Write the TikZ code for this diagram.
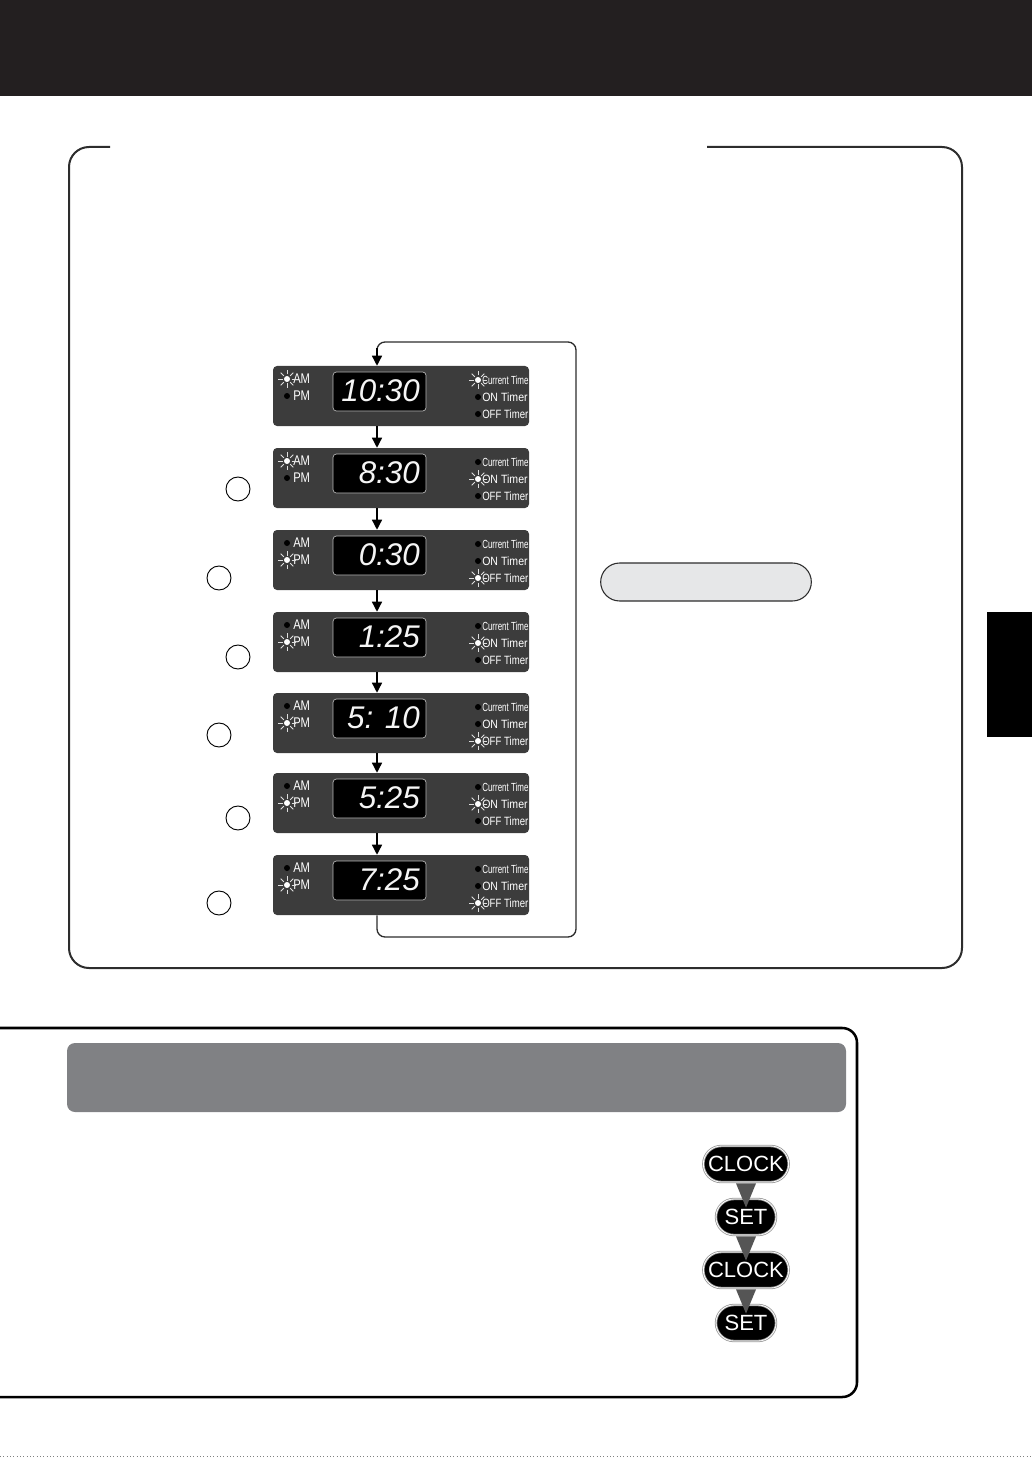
\documentclass[tikz,border=0pt]{standalone}
\usepackage{fontspec}
\setmainfont{Liberation Sans}
\newfontfamily\digfont{Liberation Sans}
\usetikzlibrary{arrows.meta,fit,calc,shapes.misc}
\definecolor{barblk}{RGB}{35,31,32}
\definecolor{panelgray}{RGB}{60,60,60}
\definecolor{framegray}{RGB}{45,45,45}
\definecolor{headgray}{RGB}{128,129,132}
\definecolor{pillgray}{RGB}{230,231,232}
\definecolor{trigray}{RGB}{85,85,85}
\tikzset{
  frameline/.style={draw=framegray, line width=1.5pt, rounded corners=15pt},
  flow/.style={draw=black, line width=1pt, -{Triangle[width=7.5pt,length=7.5pt]}},
  loopline/.style={draw=framegray, line width=1pt, rounded corners=6pt},
  ray/.style={draw=white!75!gray, line width=0.7pt},
  lbl/.style={anchor=west, inner sep=0pt, text=white, font=\fontsize{10.5}{10.5}\selectfont},
  rlbl/.style={anchor=west, inner sep=0pt, text=white, font=\fontsize{9}{9}\selectfont},
  digits/.style={anchor=east, inner sep=0pt, text=white!92!gray, font=\digfont\itshape\fontsize{23.5}{23.5}\selectfont},
  stepc/.style={circle, draw=black, line width=0.7pt, minimum size=18pt, inner sep=0pt},
  btn/.style={rounded rectangle, fill=black, draw=gray!80, double=white, double distance=0.6pt, line width=0.6pt,
     minimum height=27pt, inner sep=1pt, text=white, font=\fontsize{16.5}{16.5}\selectfont},
}
\newcommand\litdot[2]{%
  \foreach \a in {0,45,...,315}{\draw[ray] ($(#1,#2)+(\a:4.5)$) -- ($(#1,#2)+(\a:9)$);}
  \fill[white] (#1,#2) circle (3);}
\newcommand\offdot[2]{\fill[black] (#1,#2) circle (3);}
% #1 name, #2 top y, #3 digits, #4 AM(1)/PM(2), #5 right lit 1/2/3
\newcommand\dpanel[5]{%
  \fill[panelgray, rounded corners=3pt] (273,#2) rectangle (529,#2+60);
  \node[fit={(273,#2) (529,#2+60)}, inner sep=0pt] (#1) {};
  \draw[gray!55, fill=black, rounded corners=2.5pt, line width=0.5pt] (333,#2+6) rectangle (426,#2+45);
  \node[digits] (#1d) at (420,#2+25) {#3};
  \node[lbl] (#1am) at (293,#2+13) {\scalebox{0.8}[1]{AM}};
  \node[lbl] (#1pm) at (293,#2+30) {\scalebox{0.8}[1]{PM}};
  \node[rlbl] (#1ct) at (482,#2+14) {\scalebox{0.68}[1]{\fontsize{8.8}{8.8}\selectfont Current Time}};
  \node[rlbl] (#1on) at (482,#2+31) {\scalebox{0.88}[1]{ON Timer}};
  \node[rlbl] (#1off) at (482,#2+48) {\scalebox{0.8}[1]{OFF Timer}};
  \ifnum#4=1 \litdot{287}{#2+13}\offdot{287}{#2+30}\else\offdot{287}{#2+13}\litdot{287}{#2+30}\fi
  \ifnum#5=1 \litdot{478}{#2+14}\else\offdot{478}{#2+14}\fi
  \ifnum#5=2 \litdot{478}{#2+31}\else\offdot{478}{#2+31}\fi
  \ifnum#5=3 \litdot{478}{#2+48}\else\offdot{478}{#2+48}\fi
}
\begin{document}
\begin{tikzpicture}[x=0.75pt, y=-0.75pt]
\useasboundingbox (0,0) rectangle (1032,1458);
% top bar
\fill[barblk] (0,0) rectangle (1032,96);
% right tab
\fill[black] (987,612) rectangle (1032,737);
% top frame with title gap
\draw[frameline] (110,147) -- (69,147) -- (69,968) -- (962,968) -- (962,147) -- (707,147);
% panels
\dpanel{p1}{366}{10:30}{1}{1}
\dpanel{p2}{448}{8:30}{1}{2}
\dpanel{p3}{530}{0:30}{2}{3}
\dpanel{p4}{612}{1:25}{2}{2}
\dpanel{p5}{693}{5: 10}{2}{3}
\dpanel{p6}{773}{5:25}{2}{2}
\dpanel{p7}{855}{7:25}{2}{3}
\coordinate (lx) at (377,0);
\coordinate (lb) at (377,937);
\coordinate (rb) at (576,937);
\coordinate (rt) at (576,342);
\coordinate (lt) at (377,342);
\draw[flow] (p1.south -| lx) -- (p2.north -| lx);
\draw[flow] (p2.south -| lx) -- (p3.north -| lx);
\draw[flow] (p3.south -| lx) -- (p4.north -| lx);
\draw[flow] (p4.south -| lx) -- (p5.north -| lx);
\draw[flow] (p5.south -| lx) -- (p6.north -| lx);
\draw[flow] (p6.south -| lx) -- (p7.north -| lx);
\draw[loopline] (p7.south -| lx) -- (lb) -- (rb) -- (rt) -- (lt) -- ($(lt)+(0,8)$);
\draw[flow] ($(lt)+(0,6)$) -- (p1.north -| lx);
% step circles
\node[stepc] (c1) at (238,489) {};
\node[stepc] (c2) at (219,578) {};
\node[stepc] (c3) at (238,657) {};
\node[stepc] (c4) at (219,735) {};
\node[stepc] (c5) at (238,818) {};
\node[stepc] (c6) at (219,903) {};
% light pill
\node[rounded rectangle, fill=pillgray, draw=framegray, line width=0.8pt, minimum width=158pt, minimum height=28.5pt, inner sep=0pt] (pill) at (706,582) {};
% bottom frame
\draw[draw=black, line width=1.9pt, rounded corners=11pt] (0,1028) -- (857,1028) -- (857,1397) -- (0,1397);
\fill[headgray, rounded corners=6pt] (67,1043) rectangle (846,1112);
% buttons
\node[btn, minimum width=66pt] (b1) at (746,1164) {CLOCK};
\node[btn, minimum width=47pt] (b2) at (746,1217) {SET};
\node[btn, minimum width=66pt] (b3) at (746,1270) {CLOCK};
\node[btn, minimum width=47pt] (b4) at (746,1323) {SET};
\fill[trigray] ($(b1.south)+(-10,1)$) -- ($(b1.south)+(10,1)$) -- ($(b2.north)+(0,9)$) -- cycle;
\fill[trigray] ($(b2.south)+(-10,1)$) -- ($(b2.south)+(10,1)$) -- ($(b3.north)+(0,9)$) -- cycle;
\fill[trigray] ($(b3.south)+(-10,1)$) -- ($(b3.south)+(10,1)$) -- ($(b4.north)+(0,9)$) -- cycle;
% bottom dotted edge
\draw[gray, dotted, line width=0.5pt] (0,1456.5) -- (1032,1456.5);
\end{tikzpicture}
\end{document}
